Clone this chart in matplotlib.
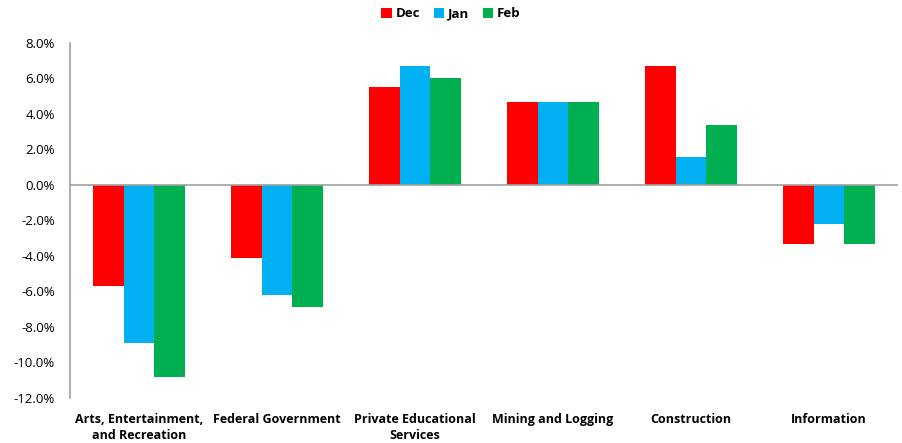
import numpy as np
import matplotlib
matplotlib.use("Agg")
import matplotlib.pyplot as plt
from matplotlib.ticker import FuncFormatter

# data (percent change)
categories = ["Arts, Entertainment,\nand Recreation", "Federal Government",
              "Private Educational\nServices", "Mining and Logging",
              "Construction", "Information"]
dec = [-5.7, -4.1, 5.5, 4.7, 6.7, -3.3]
jan = [-8.9, -6.2, 6.7, 4.7, 1.6, -2.2]
feb = [-10.8, -6.9, 6.0, 4.7, 3.4, -3.3]
series_names = ["Dec", "Jan", "Feb"]
colors = ["#FF0000", "#00B0F0", "#00B050"]

plt.rcParams['font.family'] = ['Open Sans', 'DejaVu Sans']

fig = plt.figure(figsize=(9.02, 4.43), dpi=100)
ax = fig.add_axes([70/902, 1-398/443, 828/902, 355/443])

x = np.arange(len(categories))
w = 0.22
for i, (vals, name, c) in enumerate(zip([dec, jan, feb], series_names, colors)):
    ax.bar(x + (i-1)*w, vals, w, color=c, label=name, zorder=2)

ax.set_xlim(-0.5, len(categories)-0.5)
ax.set_ylim(-12, 8)
ax.set_yticks(np.arange(-12, 8.1, 2))
ax.yaxis.set_major_formatter(FuncFormatter(lambda v, p: f"{v:.1f}%"))
ax.tick_params(axis='y', length=0, labelsize=9.5, pad=11)
ax.tick_params(axis='x', length=0)
ax.set_xticks([])

for s in ['top', 'right', 'bottom']:
    ax.spines[s].set_visible(False)
ax.spines['left'].set_color('#A0A0A0')
ax.spines['left'].set_linewidth(1.2)
ax.axhline(0, color='#A0A0A0', lw=1.2, zorder=3)

# category labels below plot area
for xi, lab in zip(x, categories):
    ax.text(xi, -12.85, lab, ha='center', va='top', fontsize=9,
            fontweight='bold', linespacing=1.3)

fig.legend(loc='upper center', bbox_to_anchor=(0.5, 1.01), ncol=3,
           frameon=False, handlelength=0.8, handleheight=0.8,
           handletextpad=0.3, columnspacing=1.0,
           prop={'weight': 'bold', 'size': 9.5})

fig.savefig("out.png", dpi=100)
